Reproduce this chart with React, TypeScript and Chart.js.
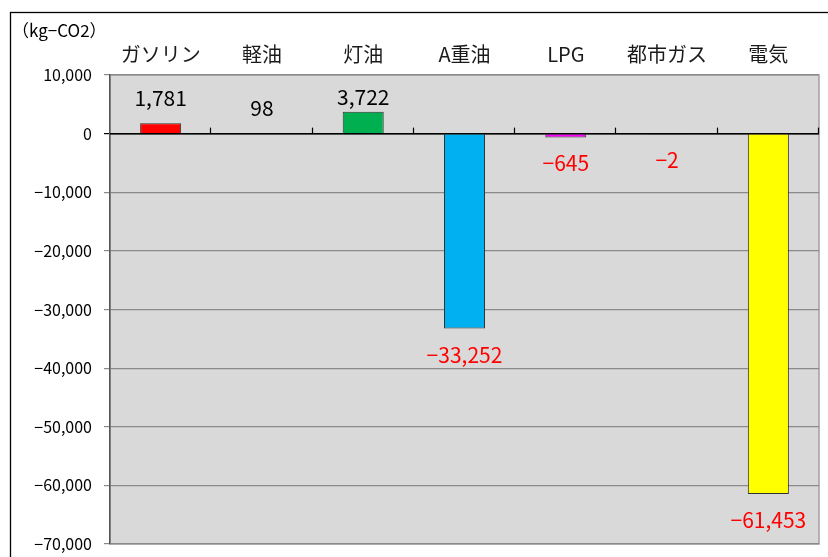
import React, { useEffect, useRef } from "react";
import { Chart, registerables } from "chart.js";

Chart.register(...registerables);

const categories = ["ガソリン", "軽油", "灯油", "A重油", "LPG", "都市ガス", "電気"];
const values = [1781, 98, 3722, -33252, -645, -2, -61453];
const barColors = ["#ff0000", "#a6a6a6", "#00b050", "#00b0f0", "#ff00ff", "#000000", "#ffff00"];
const unitLabel = "（kg−CO2）";
const yMin = -70000;
const yMax = 10000;
const yStep = 10000;

const FONT = '"Noto Sans CJK JP", "Noto Sans", sans-serif';

function fmt(v: number): string {
  const s = Math.abs(v).toLocaleString("en-US");
  return v < 0 ? "−" + s : s;
}

const decorPlugin = {
  id: "decor",
  beforeDraw(chart: any) {
    const { ctx, chartArea } = chart;
    const { left, top, right, bottom } = chartArea;
    ctx.save();
    ctx.fillStyle = "#ffffff";
    ctx.fillRect(0, 0, chart.width, chart.height);
    ctx.strokeStyle = "#000000";
    ctx.lineWidth = 1.3;
    ctx.strokeRect(10.5, 12.5, 2000, 2000);
    ctx.fillStyle = "#d9d9d9";
    ctx.fillRect(left, top, right - left, bottom - top);
    ctx.strokeStyle = "#a0a0a0";
    ctx.lineWidth = 1.5;
    ctx.strokeRect(left, top, right - left, bottom - top);
    ctx.fillStyle = "#000000";
    ctx.font = "17px " + FONT;
    ctx.textAlign = "left";
    ctx.textBaseline = "middle";
    ctx.fillText(unitLabel, 12, 31);
    const xs = chart.scales.x;
    ctx.font = "20px " + FONT;
    ctx.textAlign = "center";
    ctx.fillStyle = "#1a1a1a";
    categories.forEach((c, i) => {
      ctx.fillText(c, xs.getPixelForTick(i), 54);
    });
    ctx.restore();
  },
  afterDatasetsDraw(chart: any) {
    const { ctx, chartArea } = chart;
    const ys = chart.scales.y;
    const y0 = ys.getPixelForValue(0);
    ctx.save();
    ctx.strokeStyle = "#000000";
    ctx.lineWidth = 1.5;
    ctx.beginPath();
    ctx.moveTo(chartArea.left, y0);
    ctx.lineTo(chartArea.right, y0);
    ctx.stroke();
    const n = categories.length;
    const w = (chartArea.right - chartArea.left) / n;
    ctx.lineWidth = 1.2;
    for (let k = 1; k <= n; k++) {
      const x = Math.round(chartArea.left + k * w) - 0.5;
      ctx.beginPath();
      ctx.moveTo(x, y0);
      ctx.lineTo(x, y0 - 6);
      ctx.stroke();
    }
    const meta = chart.getDatasetMeta(0);
    ctx.font = "21px " + FONT;
    ctx.textAlign = "center";
    ctx.textBaseline = "middle";
    meta.data.forEach((bar: any, i: number) => {
      const v = values[i];
      if (v >= 0) {
        ctx.fillStyle = "#000000";
        const yc = Math.max(bar.y - 25, chartArea.top + 22);
        ctx.fillText(fmt(v), bar.x, yc);
      } else {
        ctx.fillStyle = "#ff0000";
        ctx.fillText(fmt(v), bar.x, bar.y + 26);
      }
    });
    ctx.restore();
  },
};

export default function App() {
  const ref = useRef<HTMLCanvasElement>(null);
  useEffect(() => {
    if (!ref.current) return;
    const chart = new Chart(ref.current, {
      type: "bar",
      data: {
        labels: categories,
        datasets: [
          {
            data: values,
            backgroundColor: barColors,
            borderColor: "#333333",
            borderWidth: 1,
            barPercentage: 0.405,
            categoryPercentage: 1,
          },
        ],
      },
      options: {
        responsive: false,
        maintainAspectRatio: false,
        animation: false,
        layout: { padding: { top: 75, right: 9, bottom: 13, left: 0 } },
        plugins: { legend: { display: false }, tooltip: { enabled: false } },
        scales: {
          x: { display: false, grid: { display: false } },
          y: {
            min: yMin,
            max: yMax,
            afterFit: (s: any) => {
              s.width = 110;
              s.paddingTop = 0;
              s.paddingBottom = 0;
            },
            ticks: {
              stepSize: yStep,
              padding: 12,
              color: "#000000",
              font: { size: 16, family: FONT },
              callback: (v: any) => fmt(Number(v)),
            },
            grid: {
              color: (c: any) => (c.tick && c.tick.value === 0 ? "#000000" : "#8a8a8a"),
              lineWidth: 1.2,
              tickLength: 6,
            },
            border: { color: "#555555", width: 1.5 },
          },
        },
      },
      plugins: [decorPlugin],
    });
    return () => chart.destroy();
  }, []);
  return (
    <div style={{ position: "absolute", left: 0, top: 0, width: 828, height: 557, overflow: "hidden" }}>
      <canvas ref={ref} width={828} height={557} style={{ display: "block" }} />
    </div>
  );
}
